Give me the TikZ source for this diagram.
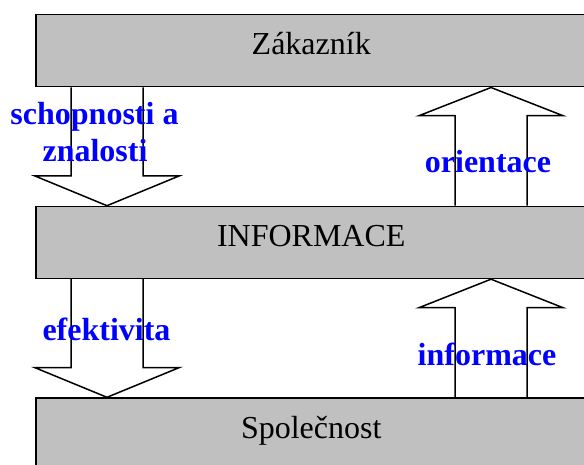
\documentclass[tikz,border=0pt]{standalone}
\usepackage{fontspec}
\setmainfont{Liberation Serif}
\definecolor{boxgray}{HTML}{C0C0C0}
\definecolor{lblblue}{HTML}{0000FF}
\begin{document}
\begin{tikzpicture}[x=1pt,y=-1pt,
  layerbox/.style={draw=black,line width=1.5pt,fill=boxgray,anchor=north west,
    minimum width=551pt,minimum height=72pt,inner sep=0pt,
    text height=20pt,text depth=12pt,font=\fontsize{32}{38}\selectfont},
  blockarrow/.style={draw=black,line width=1.5pt,line join=miter},
  lbl/.style={text=lblblue,anchor=base,inner sep=0pt,font=\fontsize{32}{38}\selectfont\bfseries}]
\useasboundingbox (0,0) rectangle (584,465);
% layers
\node[layerbox] (zak) at (35,14) {Zákazník};
\node[layerbox] (inf) at (35,205.7) {INFORMACE};
\node[layerbox] (spol) at (35,397.3) {Společnost};
% block arrows
\draw[blockarrow] (71,0 |- zak.south) -- (71,176) -- (35,176) -- (107,0 |- inf.north)
  -- (179,176) -- (143,176) -- (143,0 |- zak.south);
\draw[blockarrow] (455,0 |- inf.north) -- (455,115.7) -- (419,115.7) -- (491,0 |- zak.south)
  -- (563,115.7) -- (527,115.7) -- (527,0 |- inf.north);
\draw[blockarrow] (71,0 |- inf.south) -- (71,367.7) -- (35,367.7) -- (107,0 |- spol.north)
  -- (179,367.7) -- (143,367.7) -- (143,0 |- inf.south);
\draw[blockarrow] (455,0 |- spol.north) -- (455,307.7) -- (419,307.7) -- (491,0 |- inf.south)
  -- (563,307.7) -- (527,307.7) -- (527,0 |- spol.north);
% labels
\node[lbl] (l1a) at (94.5,125) {schopnosti a};
\node[lbl] (l1b) at (95,161.7) {znalosti};
\node[lbl] (l2) at (488,172.7) {orientace};
\node[lbl] (l3) at (106.5,340) {efektivita};
\node[lbl] (l4) at (487,365.7) {informace};
\end{tikzpicture}
\end{document}
